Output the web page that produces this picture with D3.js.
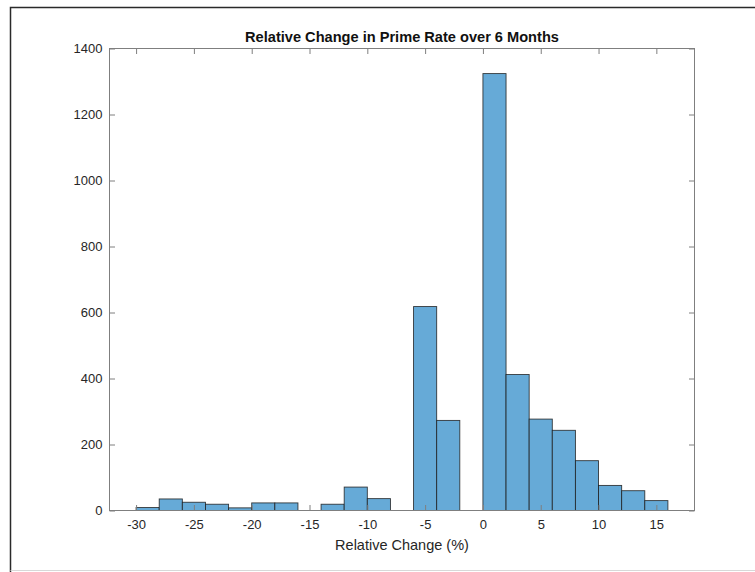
<!DOCTYPE html>
<html>
<head>
<meta charset="utf-8">
<script src="https://cdn.jsdelivr.net/npm/d3@7"></script>
<style>
  html, body { margin: 0; padding: 0; background: #fff; }
  svg { display: block; }
  text { font-family: "Liberation Sans", Arial, Helvetica, sans-serif; }
</style>
</head>
<body>
<svg id="chart" width="755" height="572"></svg>
<script>
// Histogram bin edges (percent) and counts per bin
const binEdges = [-30, -28, -26, -24, -22, -20, -18, -16, -14, -12, -10, -8, -6, -4, -2, 0, 2, 4, 6, 8, 10, 12, 14, 16];
const binCounts = [9, 35, 25, 19, 8, 23, 23, 0, 19, 71, 36, 0, 618, 273, 0, 1324, 412, 277, 243, 151, 76, 60, 30];
const xTicks = [-30, -25, -20, -15, -10, -5, 0, 5, 10, 15];
const yTicks = [0, 200, 400, 600, 800, 1000, 1200, 1400];
const titleText = "Relative Change in Prime Rate over 6 Months";
const xLabelText = "Relative Change (%)";

const bins = binCounts.map((c, i) => ({ x0: binEdges[i], x1: binEdges[i + 1], count: c }));

const svg = d3.select("#chart");
const W = 755, H = 572;
const plot = { left: 109.5, right: 694.5, top: 48.5, bottom: 510.5 };

const x = d3.scaleLinear().domain([-32.3, 18.3]).range([plot.left, plot.right]);
const y = d3.scaleLinear().domain([0, 1400]).range([plot.bottom, plot.top]);

// Window frame
svg.append("path")
  .attr("d", `M10.5,${H} L10.5,7.5 L${W},7.5`)
  .attr("fill", "none").attr("stroke", "#2a2a2a").attr("stroke-width", 1.5);
svg.append("line")
  .attr("x1", 10.5).attr("x2", W).attr("y1", 570.5).attr("y2", 570.5)
  .attr("stroke", "#d8d8d8").attr("stroke-width", 1);

// Bars
svg.append("g").selectAll("rect")
  .data(bins)
  .join("rect")
  .attr("x", d => x(d.x0))
  .attr("width", d => x(d.x1) - x(d.x0))
  .attr("y", d => y(d.count))
  .attr("height", d => y(0) - y(d.count))
  .attr("fill", "rgb(102,170,215)")
  .attr("stroke", "#1c1c1c")
  .attr("stroke-opacity", 0.85)
  .attr("stroke-width", 0.9);

// Axes (box with inward ticks on all four sides)
const axisColor = "#7f7f7f";
const tickLen = 5.5;
const labelColor = "#262626";
const plainNumber = d => String(d);

const xAxis = d3.axisBottom(x).tickValues(xTicks).tickSize(-tickLen).tickPadding(9).tickFormat(plainNumber);
const yAxis = d3.axisLeft(y).tickValues(yTicks).tickSize(-tickLen).tickPadding(7).tickFormat(plainNumber);

function styleAxis(g) {
  g.select(".domain").remove();
  g.selectAll(".tick line").attr("stroke", axisColor);
  g.selectAll(".tick text")
    .attr("fill", labelColor)
    .style("font-size", "13px")
    .style("font-family", '"Liberation Sans", Arial, Helvetica, sans-serif');
}

svg.append("g").attr("transform", `translate(0,${plot.bottom})`).call(xAxis).call(styleAxis);
svg.append("g").attr("transform", `translate(${plot.left},0)`).call(yAxis).call(styleAxis);
svg.append("g").attr("transform", `translate(0,${plot.top})`)
  .call(d3.axisTop(x).tickValues(xTicks).tickSize(-tickLen).tickFormat(""))
  .call(styleAxis);
svg.append("g").attr("transform", `translate(${plot.right},0)`)
  .call(d3.axisRight(y).tickValues(yTicks).tickSize(-tickLen).tickFormat(""))
  .call(styleAxis);

svg.append("rect")
  .attr("x", plot.left).attr("y", plot.top)
  .attr("width", plot.right - plot.left).attr("height", plot.bottom - plot.top)
  .attr("fill", "none").attr("stroke", axisColor).attr("stroke-width", 1);

// Title and axis label
svg.append("text")
  .attr("x", (plot.left + plot.right) / 2).attr("y", 41.5)
  .attr("text-anchor", "middle")
  .attr("fill", "#111")
  .style("font-size", "14.6px").style("font-weight", "bold")
  .text(titleText);

svg.append("text")
  .attr("x", (plot.left + plot.right) / 2).attr("y", 550)
  .attr("text-anchor", "middle")
  .attr("fill", labelColor)
  .style("font-size", "14.5px")
  .text(xLabelText);
</script>
</body>
</html>
